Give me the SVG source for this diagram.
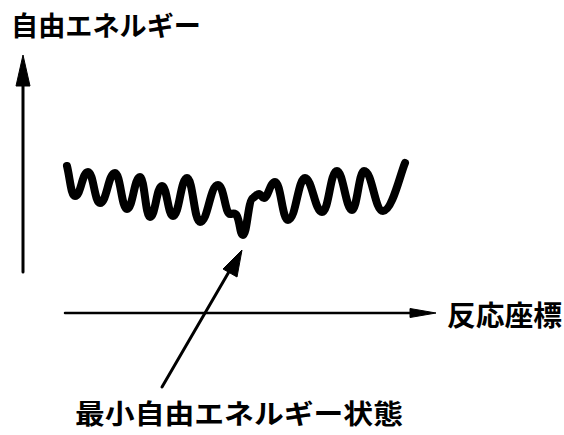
<svg xmlns="http://www.w3.org/2000/svg" width="564" height="435" viewBox="0 0 564 435">
<style>
.lbl{font-family:"Noto Sans CJK JP","Noto Sans CJK SC",sans-serif;font-weight:bold;fill:#000}
.ax{stroke:#000;fill:none;stroke-linecap:round}
.head{fill:#000;stroke:#000;stroke-width:1;stroke-linejoin:round}
</style>
<rect width="564" height="435" fill="#fff"/>
<g id="title">
<text class="lbl" x="11" y="36" font-size="27" textLength="190" lengthAdjust="spacingAndGlyphs">自由エネルギー</text>
</g>
<g id="xlabel">
<text class="lbl" x="447" y="326" font-size="28" textLength="115" lengthAdjust="spacingAndGlyphs">反応座標</text>
</g>
<g id="wave">
<path d="M67,166 C70,178 71,196 75,196 C81,196 82,172 88,172 C93.4,172 94.6,203 100,203 C106.75,203 108.25,173 115,173 C120.4,173 121.6,209 127,209 C132.85,209 134.15,177 140,177 C144.5,177 145.5,217 150,217 C155.4,217 156.6,186 162,186 C167,186 168,216 173,216 C179.3,216 180.7,178 187,178 C192.85,178 194.15,222 200,222 C208,222 210,185 218,185 C224,185 225,214 230,214 C233,214 235,212 237,216 C240,222 240,235 243,235 C247,235 248,200 253,198 C256,196 257,194 259,194 C261,194 262,198 264,198 C268,198 270,182 275,182 C280.85,182 282.15,220 288,220 C296,220 298,178 305,178 C312,178 315,212 322,212 C329,212 330,171 337,171 C343,171 346,210 352,210 C357,210 359,171 364,171 C372.5,171 374.5,211 383,211 C392,211 400,175 405,163" fill="none" stroke="#000" stroke-width="8" stroke-linecap="round" stroke-linejoin="round"/>
</g>
<g id="annotation">
<text class="lbl" x="75" y="424" font-size="27" textLength="328" lengthAdjust="spacingAndGlyphs">最小自由エネルギー状態</text>
</g>
<g id="connectors">
<line class="ax" x1="23" y1="272" x2="23" y2="82" stroke-width="3"/>
<polygon class="head" points="23,55 30,86 16,86"/>
<line class="ax" x1="65" y1="313" x2="414" y2="313" stroke-width="2.5"/>
<polygon class="head" points="436,313 410,308.5 410,317.5"/>
<line class="ax" x1="162" y1="387" x2="230" y2="270" stroke-width="3"/>
<polygon class="head" points="242,250 237,277 223,269"/>
</g>
</svg>
